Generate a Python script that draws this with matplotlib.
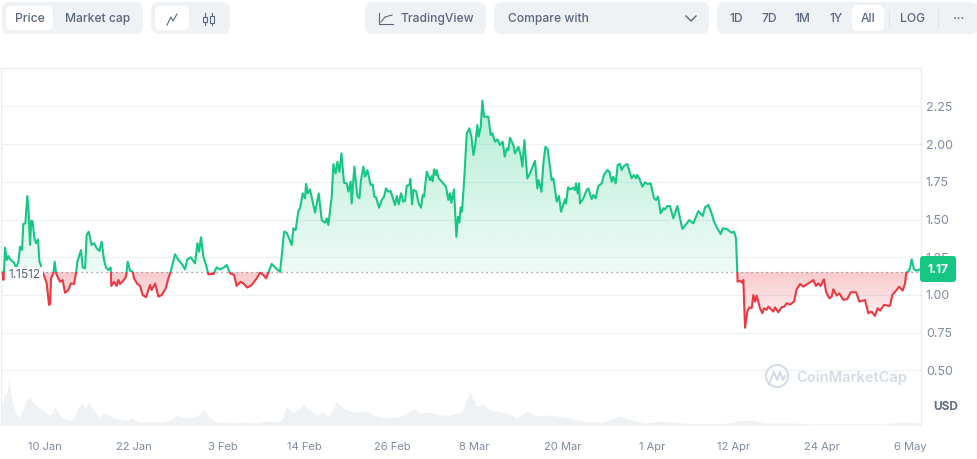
import numpy as np
import matplotlib
matplotlib.use('Agg')
import matplotlib.pyplot as plt
from matplotlib.patches import FancyBboxPatch, Circle, Rectangle

plt.rcParams['font.family'] = ['Inter', 'DejaVu Sans']

# days counted from 10 Jan
price_days = [
    -5.72, -5.63, -5.54, -5.4, -5.18, -4.95, -4.73, -4.37, -4.19, -3.9, -3.6, -3.38, -3.11, -2.93, -2.66, -2.39,
    -2.21, -2.03, -1.85, -1.67, -1.44, -1.22, -0.95, -0.76, -0.58, -0.31, 0, 0.23, 0.54, 0.68, 0.81, 1.13,
    1.31, 1.49, 1.8, 2.03, 2.39, 2.7, 3.15, 3.51, 3.92, 4.19, 4.37, 4.64, 4.87, 5.09, 5.41, 5.63,
    5.9, 6.31, 6.62, 6.98, 7.34, 7.66, 7.97, 8.24, 8.56, 8.87, 8.96, 9.33, 9.69, 9.91, 10.14, 10.59,
    10.95, 11.17, 11.49, 11.85, 12.03, 12.48, 12.84, 13.2, 13.65, 14.19, 14.41, 14.87, 15.32, 15.77, 16.31, 16.67,
    16.98, 17.57, 18.02, 18.6, 18.92, 19.24, 19.69, 20.27, 20.59, 20.81, 21.08, 21.4, 21.85, 22.07, 22.75, 23.2,
    23.65, 24.19, 24.55, 25.0, 25.54, 25.9, 26.44, 26.8, 27.34, 27.93, 28.6, 29.05, 29.5, 29.87, 30.18, 30.63,
    31.08, 31.76, 31.98, 32.3, 32.66, 33.02, 33.34, 33.56, 33.88, 34.24, 34.46, 34.82, 35.14, 35.27, 35.5, 35.81,
    36.49, 36.99, 37.39, 37.84, 38.07, 38.29, 38.74, 38.97, 39.28, 39.51, 39.78, 40.05, 40.41, 40.77, 41.0, 41.31,
    41.44, 41.8, 42.21, 42.48, 42.7, 43.02, 43.25, 43.56, 44.01, 44.28, 44.51, 44.73, 45.14, 45.5, 45.81, 46.08,
    46.4, 46.71, 47.3, 47.53, 47.8, 48.11, 48.43, 48.65, 48.88, 49.24, 49.37, 49.6, 49.78, 50.14, 50.5, 50.81,
    51.04, 51.22, 51.58, 52.03, 52.26, 52.39, 52.57, 52.8, 52.93, 53.2, 53.83, 54.19, 54.51, 54.73, 54.91, 55.27,
    55.59, 55.81, 55.99, 56.17, 56.35, 56.67, 56.99, 57.35, 57.62, 57.89, 58.16, 58.43, 58.61, 58.88, 59.1, 59.33,
    59.91, 60.23, 60.45, 60.81, 61.13, 61.49, 61.85, 62.12, 62.39, 62.62, 62.84, 63.29, 63.52, 63.97, 64.28, 64.51,
    64.78, 65.18, 65.54, 65.86, 66.22, 66.53, 66.72, 67.08, 67.35, 67.62, 67.93, 68.47, 68.7, 69.15, 69.46, 69.73,
    70.27, 70.41, 70.68, 70.95, 71.4, 71.63, 71.76, 71.99, 72.17, 72.3, 72.75, 73.2, 73.42, 73.87, 74.1, 74.41,
    74.77, 75.22, 75.54, 75.99, 76.26, 76.58, 76.8, 77.12, 77.39, 77.7, 77.93, 78.24, 78.69, 79.05, 79.28, 79.59,
    79.86, 80.05, 80.4, 80.72, 81.08, 81.4, 81.85, 82.3, 82.57, 82.84, 83.2, 83.56, 83.78, 84.1, 84.46, 84.91,
    85.45, 85.81, 86.13, 86.49, 87.07, 87.61, 88.29, 88.87, 89.19, 89.64, 90.09, 90.41, 90.86, 91.31, 91.58, 92.12,
    92.79, 93.11, 93.38, 93.56, 93.6, 93.92, 94.19, 94.37, 94.6, 94.91, 95.18, 95.5, 95.72, 95.95, 96.17, 96.62,
    96.94, 97.16, 97.52, 97.75, 98.43, 98.65, 99.1, 99.55, 99.91, 100.23, 100.68, 101.22, 101.58, 102.03, 102.48, 103.16,
    103.83, 104.19, 104.51, 104.82, 105.27, 105.54, 105.99, 106.31, 106.53, 106.98, 107.34, 107.89, 108.43, 108.88, 109.6, 110.05,
    110.81, 111.26, 111.71, 112.16, 112.52, 112.84, 113.38, 114.19, 114.5, 115.09, 115.41, 115.9, 116.22, 116.4, 116.67, 116.89,
    117.12, 117.43, 117.79, 118.24,
]
price_values = [
    1.15, 1.10, 1.17, 1.314, 1.232, 1.259, 1.237, 1.221, 1.214, 1.18, 1.221, 1.32, 1.298, 1.471, 1.475, 1.656,
    1.541, 1.332, 1.493, 1.486, 1.376, 1.343, 1.369, 1.221, 1.199, 1.148, 1.11, 1.077, 0.934, 0.94, 1.11, 1.144,
    1.221, 1.144, 1.11, 1.088, 1.099, 1.015, 1.033, 1.077, 1.073, 1.148, 1.221, 1.265, 1.298, 1.183, 1.177, 1.398,
    1.42, 1.332, 1.343, 1.31, 1.292, 1.354, 1.232, 1.183, 1.166, 1.183, 1.06, 1.088, 1.06, 1.1, 1.073, 1.095,
    1.122, 1.221, 1.161, 1.155, 1.11, 1.073, 1.06, 1.0, 0.985, 1.066, 1.033, 1.077, 0.989, 1.0, 1.044, 1.11,
    1.155, 1.27, 1.232, 1.199, 1.17, 1.237, 1.25, 1.21, 1.343, 1.287, 1.383, 1.254, 1.183, 1.137, 1.139, 1.183,
    1.17, 1.183, 1.199, 1.144, 1.133, 1.06, 1.088, 1.077, 1.049, 1.066, 1.11, 1.148, 1.133, 1.11, 1.148, 1.206,
    1.183, 1.154, 1.254, 1.42, 1.413, 1.369, 1.331, 1.442, 1.431, 1.559, 1.574, 1.674, 1.641, 1.736, 1.674, 1.7,
    1.546, 1.674, 1.497, 1.479, 1.508, 1.464, 1.652, 1.868, 1.806, 1.884, 1.817, 1.939, 1.744, 1.74, 1.685, 1.751,
    1.607, 1.851, 1.656, 1.641, 1.762, 1.851, 1.784, 1.828, 1.729, 1.733, 1.652, 1.647, 1.579, 1.63, 1.652, 1.707,
    1.685, 1.689, 1.596, 1.656, 1.601, 1.674, 1.618, 1.625, 1.725, 1.729, 1.769, 1.601, 1.696, 1.689, 1.607, 1.579,
    1.663, 1.652, 1.817, 1.762, 1.789, 1.755, 1.833, 1.795, 1.828, 1.773, 1.74, 1.718, 1.63, 1.674, 1.612, 1.7,
    1.386, 1.519, 1.481, 1.581, 1.552, 1.784, 2.072, 2.105, 2.05, 1.928, 2.005, 2.127, 2.05, 2.116, 2.288, 2.182,
    2.182, 2.061, 2.072, 2.016, 2.032, 1.994, 2.016, 1.917, 1.972, 1.961, 2.043, 1.994, 1.939, 1.983, 1.928, 1.851,
    2.027, 1.773, 1.806, 1.846, 1.89, 1.707, 1.762, 1.685, 1.873, 1.983, 1.966, 1.762, 1.773, 1.618, 1.656, 1.552,
    1.634, 1.607, 1.714, 1.7, 1.711, 1.696, 1.74, 1.674, 1.74, 1.607, 1.641, 1.696, 1.707, 1.636, 1.663, 1.641,
    1.723, 1.74, 1.796, 1.829, 1.818, 1.751, 1.785, 1.74, 1.862, 1.869, 1.829, 1.855, 1.869, 1.807, 1.774, 1.796,
    1.774, 1.796, 1.762, 1.718, 1.747, 1.736, 1.74, 1.641, 1.63, 1.652, 1.541, 1.575, 1.568, 1.59, 1.59, 1.508,
    1.59, 1.508, 1.438, 1.46, 1.497, 1.475, 1.557, 1.524, 1.581, 1.597, 1.541, 1.486, 1.442, 1.404, 1.442, 1.438,
    1.413, 1.42, 1.376, 1.155, 1.088, 1.095, 1.082, 1.1, 0.783, 0.89, 0.918, 0.912, 1.0, 0.956, 0.996, 0.912,
    0.879, 0.912, 0.901, 0.923, 0.89, 0.918, 0.885, 0.918, 0.923, 0.945, 0.936, 0.956, 1.038, 1.073, 1.055, 1.077,
    1.099, 1.06, 1.077, 1.06, 1.104, 1.022, 0.978, 0.989, 1.038, 0.996, 1.011, 0.967, 0.974, 1.018, 1.018, 0.956,
    0.967, 0.879, 0.89, 0.861, 0.912, 0.896, 0.934, 0.927, 1.0, 1.033, 1.055, 1.029, 1.077, 1.15, 1.155, 1.177,
    1.236, 1.17, 1.161, 1.17,
]
base_price = 1.1512
last_price = '1.17'

# volume, relative scale (no axis in the chart)
vol_days = [
    -5.95, -5.85, -5.4, -5.09, -4.86, -4.64, -4.28, -3.83, -3.38, -2.93, -2.48, -2.12, -1.58, -0.67, 0.23, 0.68, 1.35,
    2.03, 2.7, 3.83, 4.5, 4.96, 5.41, 5.86, 6.53, 7.21, 8.11, 9.24, 11.04, 11.71, 12.84, 16.0, 16.89,
    17.79, 18.69, 20.5, 21.4, 22.3, 23.2, 25.45, 26.8, 28.15, 29.96, 31.3, 31.98, 32.66, 33.56, 34.91, 35.81,
    36.71, 37.61, 38.29, 39.42, 40.32, 41.67, 43.47, 44.37, 45.72, 47.52, 48.2, 49.78, 50.68, 52.03, 53.38, 54.73,
    56.3, 57.43, 57.88, 58.33, 59.23, 60.14, 62.39, 63.74, 65.1, 66.45, 68.25, 70.95, 73.2, 75.46, 77.71, 79.06,
    81.31, 83.11, 87.17, 91.67, 93.7, 95.27, 97.53, 100.68, 105.18, 109.69, 112.84, 116, 118.25,
]
vol_values = [
    18, 20, 30, 33, 49, 30, 20, 10, 8, 17, 25, 28, 22, 17, 12, 10, 18,
    10, 6, 5, 17, 22, 17, 22, 15, 8, 12, 7, 5, 7, 3, 3, 5,
    10, 7, 8, 16, 7, 3, 2, 3, 2, 4, 3, 5, 18, 12, 20, 15,
    10, 13, 8, 23, 17, 13, 14, 10, 7, 8, 9, 16, 12, 13, 10, 10,
    13, 33, 27, 18, 21, 15, 12, 7, 14, 9, 10, 7, 3, 3, 9, 5,
    2, 4, 1.5, 1.5, 4, 5, 2, 2, 1, 1, 1, 3, 2,
]

y_ticks = [0.5, 0.75, 1.0, 1.25, 1.5, 1.75, 2.0, 2.25]
x_tick_days = [0, 12, 24, 35, 47, 58, 70, 82, 93, 105, 117]
x_tick_labels = ['10 Jan', '22 Jan', '3 Feb', '14 Feb', '26 Feb', '8 Mar',
                 '20 Mar', '1 Apr', '12 Apr', '24 Apr', '6 May']

GREEN = '#16c784'
RED = '#ea3943'
GRID = '#eff2f5'
PANEL = '#eff2f5'
TEXT = '#58667e'
TICK = '#7f8ba0'

W, H = 978, 459
fig = plt.figure(figsize=(W / 100, H / 100), dpi=100)
pos = [1 / W, 1 - 425 / H, 920 / W, 357 / H]

ax = fig.add_axes(pos)
x_lim = (-5.95, 118.38)
y_lim = (0.138, 2.505)

days = np.array(price_days)
prices = np.array(price_values)

for t in y_ticks:
    ax.axhline(t, color=GRID, lw=0.9, zorder=1)


def gradient(color, a_top, a_bottom, y_top, y_bottom, upper):
    rgb = matplotlib.colors.to_rgb(color)
    img = np.zeros((256, 1, 4))
    img[:, :, 0] = rgb[0]
    img[:, :, 1] = rgb[1]
    img[:, :, 2] = rgb[2]
    img[:, 0, 3] = np.linspace(a_top, a_bottom, 256)
    im = ax.imshow(img, extent=(x_lim[0], x_lim[1], y_bottom, y_top), aspect='auto',
                   origin='upper', zorder=2, interpolation='bilinear')
    if upper:
        pc = ax.fill_between(days, base_price, np.maximum(prices, base_price), color='none')
    else:
        pc = ax.fill_between(days, base_price, np.minimum(prices, base_price), color='none')
    im.set_clip_path(pc.get_paths()[0], pc.get_transform())


gradient(GREEN, 0.32, 0.07, 2.29, base_price, True)
gradient(RED, 0.27, 0.03, base_price, 0.78, False)

ax.axhline(base_price, color='#7d8696', lw=0.9, ls=(0, (1, 3)), zorder=3)

# same line twice, clipped either side of the start price
green_line, = ax.plot(days, prices, color=GREEN, lw=1.5, zorder=4, solid_joinstyle='round')
red_line, = ax.plot(days, prices, color=RED, lw=1.5, zorder=4, solid_joinstyle='round')
green_line.set_clip_path(Rectangle((x_lim[0], base_price), x_lim[1] - x_lim[0], y_lim[1] - base_price,
                                   transform=ax.transData))
red_line.set_clip_path(Rectangle((x_lim[0], y_lim[0]), x_lim[1] - x_lim[0], base_price - y_lim[0],
                                 transform=ax.transData))

ax.set_xlim(x_lim)
ax.set_ylim(y_lim)
ax.yaxis.tick_right()
ax.set_yticks(y_ticks, [f'{t:.2f}' for t in y_ticks])
ax.set_xticks(x_tick_days, x_tick_labels)
ax.tick_params(axis='y', length=0, pad=3.5, labelsize=8.9, labelcolor=TICK)
ax.tick_params(axis='x', length=0, pad=12.5, labelsize=8.0, labelcolor=TICK)
for s in ['top', 'left', 'right']:
    ax.spines[s].set_color('#e9ecf1')
    ax.spines[s].set_linewidth(0.9)
ax.spines['bottom'].set_visible(False)

vol_ax = fig.add_axes(pos)
vol_ax.patch.set_visible(False)
vol_ax.axis('off')
vol_ax.fill_between(vol_days, 0, vol_values, color='#eff2f5', lw=0)
vol_ax.set_xlim(x_lim)
vol_ax.set_ylim(0, 357)

# toolbar and labels, drawn in pixel coordinates
ov = fig.add_axes([0, 0, 1, 1], zorder=10)
ov.patch.set_visible(False)
ov.axis('off')
ov.set_xlim(0, W)
ov.set_ylim(H, 0)


def box(x0, x1, y0, y1, color, r=8):
    ov.add_patch(FancyBboxPatch((x0 + r, y0 + r), x1 - x0 - 2 * r, y1 - y0 - 2 * r,
                                boxstyle=f'round,pad={r},rounding_size={r}', fc=color, ec='none'))


def label(x, s, color=TEXT, size=8.7, y=18.8, weight=500, ha='center'):
    ov.text(x, y, s, color=color, fontsize=size, fontweight=weight, ha=ha, va='center')


box(2, 143, 2, 34, PANEL)
box(6, 53, 6, 30, 'white', 6)
label(30, 'Price')
label(98, 'Market cap')

box(151, 230, 2, 34, PANEL)
box(155, 189, 6, 30, 'white', 6)
ov.plot([167, 171, 173, 177], [25, 17, 21, 14], color=TEXT, lw=0.8)
ov.plot([205, 205], [13, 25], color=TEXT, lw=0.8)
ov.plot([212, 212], [13, 25], color=TEXT, lw=0.8)
ov.add_patch(Rectangle((203, 17), 4, 5, fc=PANEL, ec=TEXT, lw=0.8, zorder=3))
ov.add_patch(Rectangle((210, 16), 4, 7, fc=PANEL, ec=TEXT, lw=0.8, zorder=3))

box(365, 486, 2, 34, PANEL)
ov.plot([379, 379, 393], [13, 24, 24], color=TEXT, lw=0.8)
ov.plot([381, 385, 392], [22, 17, 15], color=TEXT, lw=0.8)
label(437, 'TradingView')

box(494, 709, 2, 34, PANEL)
label(508, 'Compare with', ha='left')
ov.plot([686, 691, 696], [16, 21, 16], color=TEXT, lw=1)

box(717, 978, 2, 34, PANEL)
box(852, 884, 5, 31, 'white', 6)
for x, s in zip([736, 769, 802, 836, 868, 913], ['1D', '7D', '1M', '1Y', 'All', 'LOG']):
    label(x, s)
ov.plot([889, 889], [10, 26], color='#dfe3ea', lw=0.8)
ov.plot([938, 938], [10, 26], color='#dfe3ea', lw=0.8)
label(959, '...', y=16)

# start price and last price tags
ov.text(24.5, 275, '1.1512', color=TEXT, fontsize=8.6, ha='center', va='center',
        bbox=dict(fc='white', ec='none', pad=1.5))
box(920, 956, 256, 282, GREEN, 3)
label(938, last_price, color='white', size=8.6, y=270, weight=700)
label(933, 'USD', color='#616e85', size=8.6, y=407.5, weight=700, ha='left')

# watermark
ov.add_patch(Circle((777, 376), 11, fc='none', ec='#d5dbe6', lw=1.5))
ov.plot([769, 774, 777, 780, 783, 785], [384, 372, 380, 372, 380, 376], color='#d5dbe6', lw=1.5)
label(796, 'CoinMarketCap', color='#d5dbe6', size=10.6, y=377.5, weight=600, ha='left')

fig.savefig('out.png', dpi=100)
